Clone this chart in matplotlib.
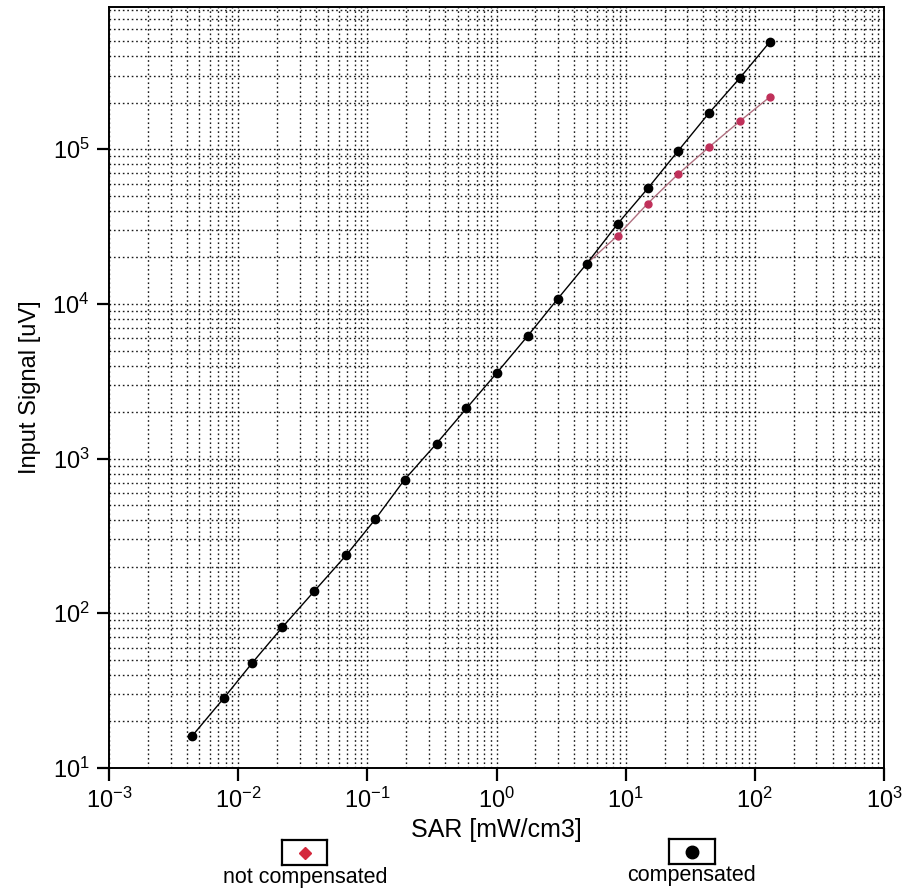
import matplotlib
matplotlib.use("Agg")
import matplotlib.pyplot as plt
from matplotlib.ticker import LogLocator, FixedLocator, NullFormatter

plt.rcParams['font.family'] = ['Liberation Sans', 'DejaVu Sans']
plt.rcParams['mathtext.fontset'] = 'custom'
plt.rcParams['mathtext.rm'] = 'Liberation Sans'
plt.rcParams['mathtext.it'] = 'Liberation Sans'

# ---- data ----
sar_comp = [0.0044, 0.0078, 0.0129, 0.0219, 0.0388, 0.0687, 0.115, 0.194, 0.343,
            0.585, 1.0, 1.74, 2.97, 4.99, 8.67, 14.8, 25.3, 44.0, 76.5, 130.6]
sig_comp = [16.1, 28.5, 48, 81, 139, 238, 405, 731, 1251,
            2113, 3566, 6200, 10770, 18200, 33000, 55800, 97000, 171000, 289000, 495000]

sar_nc = [4.99, 8.67, 14.8, 25.3, 44.0, 76.5, 130.6]
sig_nc = [18200, 27700, 44600, 68800, 103000, 152000, 218000]

x_ticks = [1e-3, 1e-2, 1e-1, 1e0, 1e1, 1e2, 1e3]
x_ticklabels = [r'$10^{-3}$', r'$10^{-2}$', r'$10^{-1}$', r'$10^{0}$', r'$10^{1}$', r'$10^{2}$', r'$10^{3}$']
y_ticks = [1e1, 1e2, 1e3, 1e4, 1e5]
y_ticklabels = [r'$10^{1}$', r'$10^{2}$', r'$10^{3}$', r'$10^{4}$', r'$10^{5}$']

red = '#c0305a'

fig = plt.figure(figsize=(9.11, 8.94), dpi=100)
ax = fig.add_axes([0.1197, 0.141, 0.8507, 0.851])
ax.set_xscale('log')
ax.set_yscale('log')
ax.set_xlim(1e-3, 1e3)
ax.set_ylim(10, 8.3e5)

ax.grid(True, which='both', linestyle=(0, (1.2, 2.0)), color='black', linewidth=1.0, alpha=0.9)
ax.set_axisbelow(True)

ax.plot(sar_nc, sig_nc, '-', color='#b07080', linewidth=1.0, marker='o',
        markersize=5, markerfacecolor=red, markeredgecolor=red, zorder=3)
ax.plot(sar_comp, sig_comp, '-', color='black', linewidth=1.0, marker='o',
        markersize=6, markerfacecolor='black', markeredgecolor='black', zorder=4)

ax.xaxis.set_major_locator(FixedLocator(x_ticks))
ax.set_xticklabels(x_ticklabels)
ax.yaxis.set_major_locator(FixedLocator(y_ticks))
ax.set_yticklabels(y_ticklabels)
ax.xaxis.set_minor_locator(LogLocator(base=10, subs=range(2, 10), numticks=50))
ax.yaxis.set_minor_locator(LogLocator(base=10, subs=range(2, 10), numticks=50))
ax.xaxis.set_minor_formatter(NullFormatter())
ax.yaxis.set_minor_formatter(NullFormatter())
ax.tick_params(which='major', direction='out', length=9, width=1.6, labelsize=17, pad=5)
ax.tick_params(which='minor', length=0)

for s in ax.spines.values():
    s.set_linewidth(1.4)
    s.set_color('black')

ax.set_xlabel('SAR [mW/cm3]', fontsize=18, labelpad=4)
ax.set_ylabel('Input Signal [uV]', fontsize=17, labelpad=8)

# legend boxes
def legend_box(x0, y0, w, h, color, marker, ms, label, tx, ty):
    lax = fig.add_axes([x0, y0, w, h])
    lax.set_xlim(0, 1)
    lax.set_ylim(0, 1)
    lax.set_xticks([])
    lax.set_yticks([])
    for s in lax.spines.values():
        s.set_linewidth(1.6)
    lax.plot([0.5], [0.5], marker=marker, markersize=ms, color=color, linestyle='none')
    fig.text(tx, ty, label, fontsize=15.5, ha='center', va='center')

legend_box(282/911, 1 - 865/894, 45/911, 25/894, '#d4283c', 'D', 6,
           'not compensated', 305/911, 1 - 877/894)
legend_box(669/911, 1 - 864/894, 46/911, 25/894, 'black', 'o', 9,
           'compensated', 692/911, 1 - 876/894)

fig.savefig('out.png', dpi=100)
